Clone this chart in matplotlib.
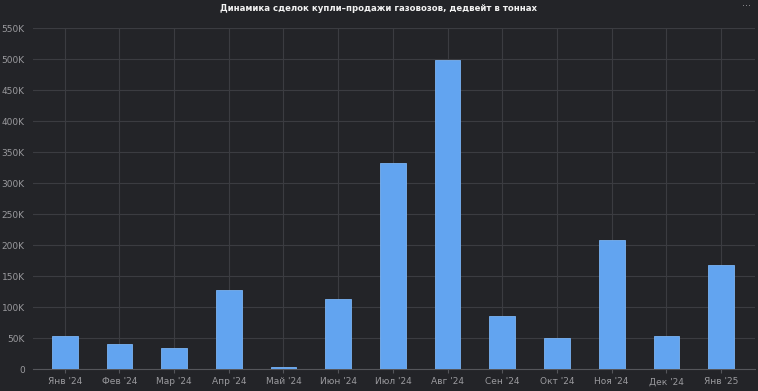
import numpy as np
import matplotlib.pyplot as plt
from matplotlib.ticker import FuncFormatter

# данные по месяцам (дедвейт, тонн)
months = ["Янв '24", "Фев '24", "Мар '24", "Апр '24", "Май '24", "Июн '24", "Июл '24",
          "Авг '24", "Сен '24", "Окт '24", "Ноя '24", "Дек '24", "Янв '25"]
dwt = [53000, 40000, 34000, 127000, 3000, 113000, 332000,
       499000, 85000, 50000, 208000, 53000, 168000]

bg = "#232428"
fig = plt.figure(figsize=(7.58, 3.91), dpi=100, facecolor=bg)
ax = fig.add_axes([0.0435, 0.056, 0.9525, 0.872], facecolor=bg)

x = np.arange(len(months))
ax.bar(x, dwt, width=0.47, color="#62a4f0", edgecolor="#7ab4f5", linewidth=0.6, zorder=3)

ax.set_xlim(-0.58, len(months) - 0.38)
ax.set_ylim(0, 550000)
ax.set_yticks(np.arange(0, 550001, 50000))
ax.yaxis.set_major_formatter(FuncFormatter(lambda v, p: "0" if v == 0 else f"{int(v/1000)}K"))
ax.set_xticks(x)
ax.set_xticklabels(months)

ax.grid(True, color="#3b3c41", linewidth=0.8, zorder=0)
for s in ["top", "right", "left"]:
    ax.spines[s].set_visible(False)
ax.spines["bottom"].set_color("#55565b")
ax.tick_params(axis="y", length=0, colors="#9a9a9e", labelsize=6.5, pad=6)
ax.tick_params(axis="x", length=3, color="#55565b", colors="#9a9a9e", labelsize=6.5, pad=3)

fig.text(0.5, 0.977, "Динамика сделок купли–продажи газовозов, дедвейт в тоннах",
         ha="center", va="center", color="#f2f2f2", fontsize=6.8, fontweight="bold",
         fontstretch="condensed")
fig.text(0.985, 0.985, "···", ha="center", va="center", color="#9a9a9e", fontsize=7)

plt.savefig("out.png", facecolor=bg)
